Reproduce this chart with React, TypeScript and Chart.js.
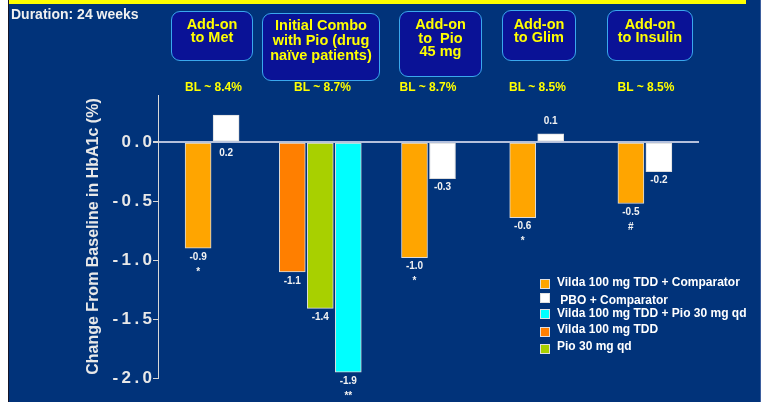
import React, { useEffect, useRef } from "react";
import { Chart, registerables } from "chart.js";

Chart.register(...registerables);

// ---------- data ----------
const groups = [
  "Add-on\nto Met",
  "Initial Combo\nwith Pio (drug\nnaïve patients)",
  "Add-on\nto  Pio\n45 mg",
  "Add-on\nto Glim",
  "Add-on\nto Insulin",
];
const baselines = ["BL ~ 8.4%", "BL ~ 8.7%", "BL ~ 8.7%", "BL ~ 8.5%", "BL ~ 8.5%"];

const vildaComparator = [-0.9, null, -0.98, -0.64, -0.52];
const vildaComparatorLabels = ["-0.9", "", "-1.0", "-0.6", "-0.5"];
const vildaComparatorMarks = ["*", "", "*", "*", "#"];

const pboComparator = [0.23, null, -0.31, 0.07, -0.25];
const pboComparatorLabels = ["0.2", "", "-0.3", "0.1", "-0.2"];

const vildaMono = [null, -1.1, null, null, null];
const vildaMonoLabels = ["", "-1.1", "", "", ""];

const pioMono = [null, -1.41, null, null, null];
const pioMonoLabels = ["", "-1.4", "", "", ""];

const vildaPio = [null, -1.95, null, null, null];
const vildaPioLabels = ["", "-1.9", "", "", ""];
const vildaPioMarks = ["", "**", "", "", ""];

const yTickValues = [0, -0.5, -1.0, -1.5, -2.0];
const yAxisTitle = "Change From Baseline in HbA1c (%)";
const durationText = "Duration: 24 weeks";

const seriesNames = {
  vildaComparator: "Vilda 100 mg TDD + Comparator",
  pboComparator: " PBO + Comparator",
  vildaPio: "Vilda 100 mg TDD + Pio 30 mg qd",
  vildaMono: "Vilda 100 mg TDD",
  pioMono: "Pio 30 mg qd",
};

// ---------- styles ----------
const FONT = "'Liberation Sans', Arial, Helvetica, sans-serif";
const BG = "#01337a";
const COLORS = {
  vildaComparator: "#ffa500",
  pboComparator: "#ffffff",
  vildaPio: "#00ffff",
  vildaMono: "#ff7f00",
  pioMono: "#a8d000",
};

const boxLayout = [
  { left: 171, top: 11, width: 82, height: 50, lh: 13.5, pt: 5.5 },
  { left: 262, top: 13, width: 118, height: 68, lh: 15, pt: 4 },
  { left: 399, top: 11, width: 83, height: 66, lh: 13.6, pt: 6 },
  { left: 502, top: 10, width: 74, height: 51, lh: 13, pt: 6.5 },
  { left: 607, top: 10, width: 86, height: 51, lh: 13, pt: 6.5 },
];
const blCenters = [213.5, 322.5, 428, 537.5, 646];

const legendLayout = [
  { sq: 279, text: 282, x: 557 },
  { sq: 293, text: 300, x: 557 },
  { sq: 309, text: 313, x: 557 },
  { sq: 327, text: 329, x: 557 },
  { sq: 344, text: 346, x: 557 },
];
const legendOrder: (keyof typeof seriesNames)[] = [
  "vildaComparator",
  "pboComparator",
  "vildaPio",
  "vildaMono",
  "pioMono",
];

const barLabelPlugin = {
  id: "barLabels",
  afterDatasetsDraw(chart: any) {
    const ctx = chart.ctx;
    const zeroY = chart.scales.y.getPixelForValue(0);
    chart.data.datasets.forEach((ds: any, di: number) => {
      const meta = chart.getDatasetMeta(di);
      meta.data.forEach((bar: any, i: number) => {
        const v = ds.data[i];
        if (v === null || v === undefined) return;
        const { x, y } = bar.getProps(["x", "y"], true);
        ctx.save();
        ctx.font = `bold 10px ${FONT}`;
        ctx.fillStyle = "#f2f2f2";
        ctx.textAlign = "center";
        ctx.textBaseline = "middle";
        let ly: number;
        if (v < 0) ly = y + 9;
        else if (v >= 0.15) ly = zeroY + 11;
        else ly = y - 13;
        const txt = ds.valueLabels ? ds.valueLabels[i] : "";
        if (txt) ctx.fillText(txt, x, ly);
        const mark = ds.sigMarks ? ds.sigMarks[i] : "";
        if (mark) ctx.fillText(mark, x, y + 24);
        ctx.restore();
      });
    });
  },
};

export default function App() {
  const ref = useRef<HTMLCanvasElement>(null);

  useEffect(() => {
    if (!ref.current) return;
    const common = {
      borderColor: "#dcdcdc",
      borderWidth: 1,
      borderSkipped: false,
      barThickness: 28,
      maxBarThickness: 26,
      skipNull: true,
    };
    const chart = new Chart(ref.current, {
      type: "bar",
      data: {
        labels: groups.map((g) => g.replace(/\n/g, " ")),
        datasets: [
          {
            ...common,
            label: seriesNames.vildaComparator,
            data: vildaComparator,
            backgroundColor: COLORS.vildaComparator,
            valueLabels: vildaComparatorLabels,
            sigMarks: vildaComparatorMarks,
          },
          {
            ...common,
            label: seriesNames.pboComparator,
            data: pboComparator,
            backgroundColor: COLORS.pboComparator,
            valueLabels: pboComparatorLabels,
          },
          {
            ...common,
            label: seriesNames.vildaMono,
            data: vildaMono,
            backgroundColor: COLORS.vildaMono,
            valueLabels: vildaMonoLabels,
          },
          {
            ...common,
            label: seriesNames.pioMono,
            data: pioMono,
            backgroundColor: COLORS.pioMono,
            valueLabels: pioMonoLabels,
          },
          {
            ...common,
            label: seriesNames.vildaPio,
            data: vildaPio,
            backgroundColor: COLORS.vildaPio,
            valueLabels: vildaPioLabels,
            sigMarks: vildaPioMarks,
          },
        ] as any,
      },
      options: {
        animation: false,
        responsive: false,
        maintainAspectRatio: false,
        layout: { padding: { left: 76, right: 62, top: 95, bottom: 24 } },
        plugins: {
          legend: { display: false },
          tooltip: { enabled: false },
        },
        scales: {
          x: { display: false, grid: { display: false } },
          y: {
            min: -2,
            max: 0.4,
            afterBuildTicks: (scale: any) => {
              scale.ticks = yTickValues.map((v) => ({ value: v }));
            },
            afterFit: (scale: any) => {
              scale.width = 82;
            },
            ticks: {
              color: "#e8e8e8",
              font: { family: FONT, size: 17, weight: "bold" },
              padding: 1,
              callback: (v: any) => Number(v).toFixed(1).split("").join("\u2009"),
            },
            grid: {
              drawOnChartArea: true,
              color: (c: any) =>
                c.tick && Math.abs(c.tick.value) < 1e-9 ? "#b4c0dc" : "rgba(0,0,0,0)",
              lineWidth: (c: any) => (c.tick && Math.abs(c.tick.value) < 1e-9 ? 2 : 1),
              tickColor: "#d8d8d8",
              tickLength: 5,
            },
            border: { display: true, color: "#d8d8d8", width: 1 },
            title: {
              display: true,
              text: yAxisTitle,
              color: "#e8e8e8",
              font: { family: FONT, size: 16, weight: "bold" },
              padding: { top: 8, bottom: 0 },
            },
          },
        },
      } as any,
      plugins: [barLabelPlugin],
    });
    return () => chart.destroy();
  }, []);

  return (
    <div
      style={{
        position: "fixed",
        left: 0,
        top: 0,
        width: 761,
        height: 402,
        background: "#ffffff",
        overflow: "hidden",
        fontFamily: FONT,
      }}
    >
      <div
        style={{
          position: "absolute",
          left: 8,
          top: 0,
          width: 753,
          height: 402,
          background: BG,
          borderLeft: "1px solid #141428",
          borderRight: "1px solid #3d5f9e",
          boxSizing: "border-box",
        }}
      />
      <div
        style={{
          position: "absolute",
          left: 9,
          top: 0,
          width: 737,
          height: 4,
          background: "#ffff00",
        }}
      />
      <canvas
        ref={ref}
        width={761}
        height={402}
        style={{ position: "absolute", left: 0, top: 0, width: 761, height: 402 }}
      />
      <div
        style={{
          position: "absolute",
          left: 11,
          top: 6,
          fontSize: 14,
          lineHeight: "16px",
          fontWeight: "bold",
          color: "#f0f0f0",
          whiteSpace: "pre",
        }}
      >
        {durationText}
      </div>
      {groups.map((g, i) => {
        const b = boxLayout[i];
        return (
          <div
            key={"box" + i}
            style={{
              position: "absolute",
              left: b.left,
              top: b.top,
              width: b.width,
              height: b.height,
              boxSizing: "border-box",
              border: "1.5px solid #3aa8ee",
              borderRadius: 9,
              background: "#0a1296",
              color: "#ffff00",
              fontWeight: "bold",
              fontSize: 14.5,
              lineHeight: b.lh + "px",
              paddingTop: b.pt,
              textAlign: "center",
              whiteSpace: "pre",
            }}
          >
            {g}
          </div>
        );
      })}
      {baselines.map((t, i) => (
        <div
          key={"bl" + i}
          style={{
            position: "absolute",
            left: blCenters[i] - 45,
            width: 90,
            top: 80,
            lineHeight: "14px",
            fontSize: 12,
            fontWeight: "bold",
            color: "#ffff00",
            textAlign: "center",
            whiteSpace: "pre",
          }}
        >
          {t}
        </div>
      ))}
      {legendOrder.map((k, i) => {
        const l = legendLayout[i];
        return (
          <React.Fragment key={"lg" + k}>
            <div
              style={{
                position: "absolute",
                left: 540,
                top: l.sq,
                width: 10,
                height: 10,
                boxSizing: "border-box",
                background: COLORS[k],
                border: "1px solid #e0e0e0",
              }}
            />
            <div
              style={{
                position: "absolute",
                left: l.x,
                top: l.text - 7,
                lineHeight: "14px",
                fontSize: 12,
                fontWeight: "bold",
                color: "#ffffff",
                whiteSpace: "pre",
              }}
            >
              {seriesNames[k]}
            </div>
          </React.Fragment>
        );
      })}
    </div>
  );
}
